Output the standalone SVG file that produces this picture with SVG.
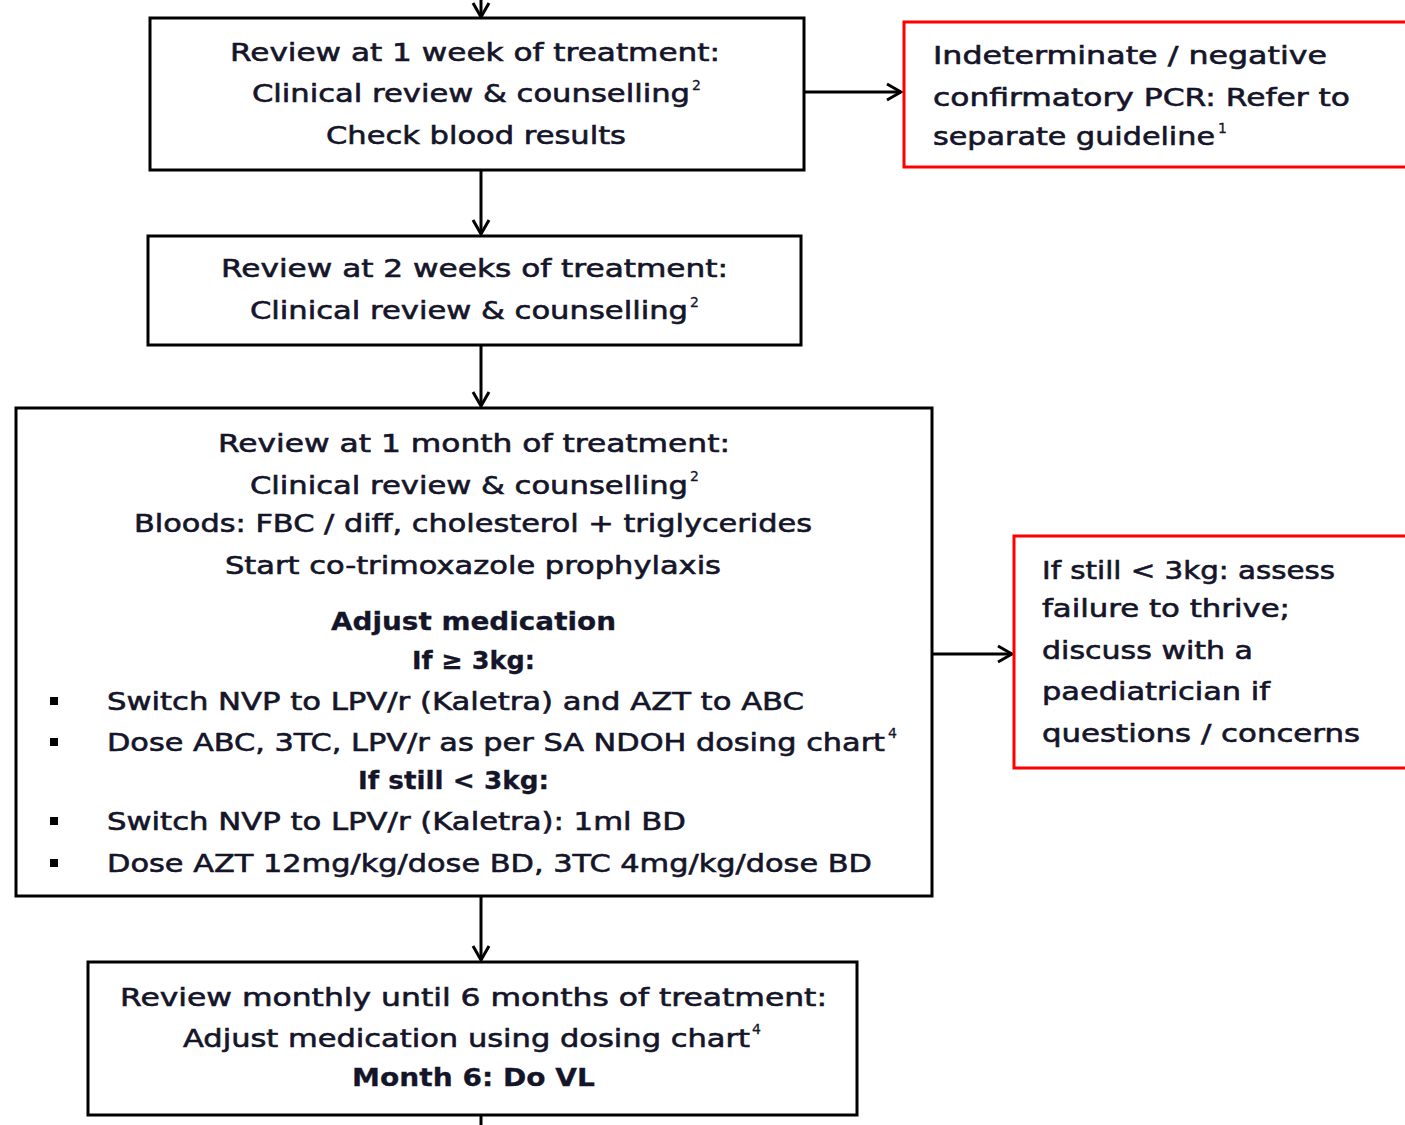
<svg xmlns="http://www.w3.org/2000/svg" width="1405" height="1125" viewBox="0 0 1405 1125">
<style>
.box{fill:#fff;stroke:#000;stroke-width:3}
.rbox{fill:#fff;stroke:#f00;stroke-width:3}
text{font-family:"DejaVu Sans","Liberation Sans",sans-serif;font-size:25px;fill:#15152a;stroke:#15152a;stroke-width:0.6}
.c{text-anchor:middle}
.b{font-weight:bold;stroke-width:0.3}
.sup{font-size:14px;stroke-width:0.3}
.con{stroke:#000;stroke-width:3;fill:none}
.bul{fill:#000}
</style>
<defs>
<marker id="ah" markerUnits="userSpaceOnUse" markerWidth="20" markerHeight="20" viewBox="0 0 20 20" refX="18" refY="10" orient="auto">
<path d="M4,2 L18,10 L4,18" fill="none" stroke="#000" stroke-width="3"/>
</marker>
</defs>
<g id="connectors">
<line class="con" x1="481" y1="0" x2="481" y2="17" marker-end="url(#ah)"/>
<line class="con" x1="481" y1="170" x2="481" y2="234" marker-end="url(#ah)"/>
<line class="con" x1="481" y1="345" x2="481" y2="406" marker-end="url(#ah)"/>
<line class="con" x1="481" y1="896" x2="481" y2="960" marker-end="url(#ah)"/>
<line class="con" x1="481" y1="1115" x2="481" y2="1125"/>
<line class="con" x1="804" y1="92" x2="901" y2="92" marker-end="url(#ah)"/>
<line class="con" x1="932" y1="654" x2="1012" y2="654" marker-end="url(#ah)"/>
</g>
<g id="n1">
<rect class="box" x="150" y="18" width="654" height="152"/>
<text x="230" y="61" textLength="490" lengthAdjust="spacingAndGlyphs">Review at 1 week of treatment:</text>
<text x="252" y="102" textLength="438" lengthAdjust="spacingAndGlyphs">Clinical review &amp; counselling</text>
<text class="sup" x="692" y="90">2</text>
<text x="326" y="144" textLength="300" lengthAdjust="spacingAndGlyphs">Check blood results</text>
</g>
<g id="n2">
<rect class="rbox" x="904" y="22" width="520" height="145"/>
<text x="933" y="64" textLength="394" lengthAdjust="spacingAndGlyphs">Indeterminate / negative</text>
<text x="933" y="106" textLength="417" lengthAdjust="spacingAndGlyphs">confirmatory PCR: Refer to</text>
<text x="933" y="145" textLength="282" lengthAdjust="spacingAndGlyphs">separate guideline</text>
<text class="sup" x="1218" y="133">1</text>
</g>
<g id="n3">
<rect class="box" x="148" y="236" width="653" height="109"/>
<text x="221" y="277" textLength="507" lengthAdjust="spacingAndGlyphs">Review at 2 weeks of treatment:</text>
<text x="250" y="319" textLength="438" lengthAdjust="spacingAndGlyphs">Clinical review &amp; counselling</text>
<text class="sup" x="690" y="307">2</text>
</g>
<g id="n4">
<rect class="box" x="16" y="408" width="916" height="488"/>
<text x="218" y="452" textLength="512" lengthAdjust="spacingAndGlyphs">Review at 1 month of treatment:</text>
<text x="250" y="494" textLength="438" lengthAdjust="spacingAndGlyphs">Clinical review &amp; counselling</text>
<text class="sup" x="690" y="481">2</text>
<text x="134" y="532" textLength="678" lengthAdjust="spacingAndGlyphs">Bloods: FBC / diff, cholesterol + triglycerides</text>
<text x="225" y="574" textLength="496" lengthAdjust="spacingAndGlyphs">Start co-trimoxazole prophylaxis</text>
<text class="b" x="331" y="630" textLength="285" lengthAdjust="spacingAndGlyphs">Adjust medication</text>
<text class="b" x="412" y="669" textLength="123" lengthAdjust="spacingAndGlyphs">If ≥ 3kg:</text>
<rect class="bul" x="50" y="697" width="8" height="8"/>
<text x="107" y="710" textLength="697" lengthAdjust="spacingAndGlyphs">Switch NVP to LPV/r (Kaletra) and AZT to ABC</text>
<rect class="bul" x="50" y="738" width="8" height="8"/>
<text x="107" y="751" textLength="778" lengthAdjust="spacingAndGlyphs">Dose ABC, 3TC, LPV/r as per SA NDOH dosing chart</text>
<text class="sup" x="888" y="738">4</text>
<text class="b" x="358" y="789" textLength="191" lengthAdjust="spacingAndGlyphs">If still &lt; 3kg:</text>
<rect class="bul" x="50" y="817" width="8" height="8"/>
<text x="107" y="830" textLength="579" lengthAdjust="spacingAndGlyphs">Switch NVP to LPV/r (Kaletra): 1ml BD</text>
<rect class="bul" x="50" y="859" width="8" height="8"/>
<text x="107" y="872" textLength="765" lengthAdjust="spacingAndGlyphs">Dose AZT 12mg/kg/dose BD, 3TC 4mg/kg/dose BD</text>
</g>
<g id="n5">
<rect class="rbox" x="1014" y="536" width="420" height="232"/>
<text x="1042" y="579" textLength="293" lengthAdjust="spacingAndGlyphs">If still &lt; 3kg: assess</text>
<text x="1042" y="617" textLength="248" lengthAdjust="spacingAndGlyphs">failure to thrive;</text>
<text x="1042" y="659" textLength="211" lengthAdjust="spacingAndGlyphs">discuss with a</text>
<text x="1042" y="700" textLength="228" lengthAdjust="spacingAndGlyphs">paediatrician if</text>
<text x="1042" y="742" textLength="318" lengthAdjust="spacingAndGlyphs">questions / concerns</text>
</g>
<g id="n6">
<rect class="box" x="88" y="962" width="769" height="153"/>
<text x="120" y="1006" textLength="707" lengthAdjust="spacingAndGlyphs">Review monthly until 6 months of treatment:</text>
<text x="183" y="1047" textLength="567" lengthAdjust="spacingAndGlyphs">Adjust medication using dosing chart</text>
<text class="sup" x="752" y="1034">4</text>
<text class="b" x="352" y="1086" textLength="243" lengthAdjust="spacingAndGlyphs">Month 6: Do VL</text>
</g>
</svg>
